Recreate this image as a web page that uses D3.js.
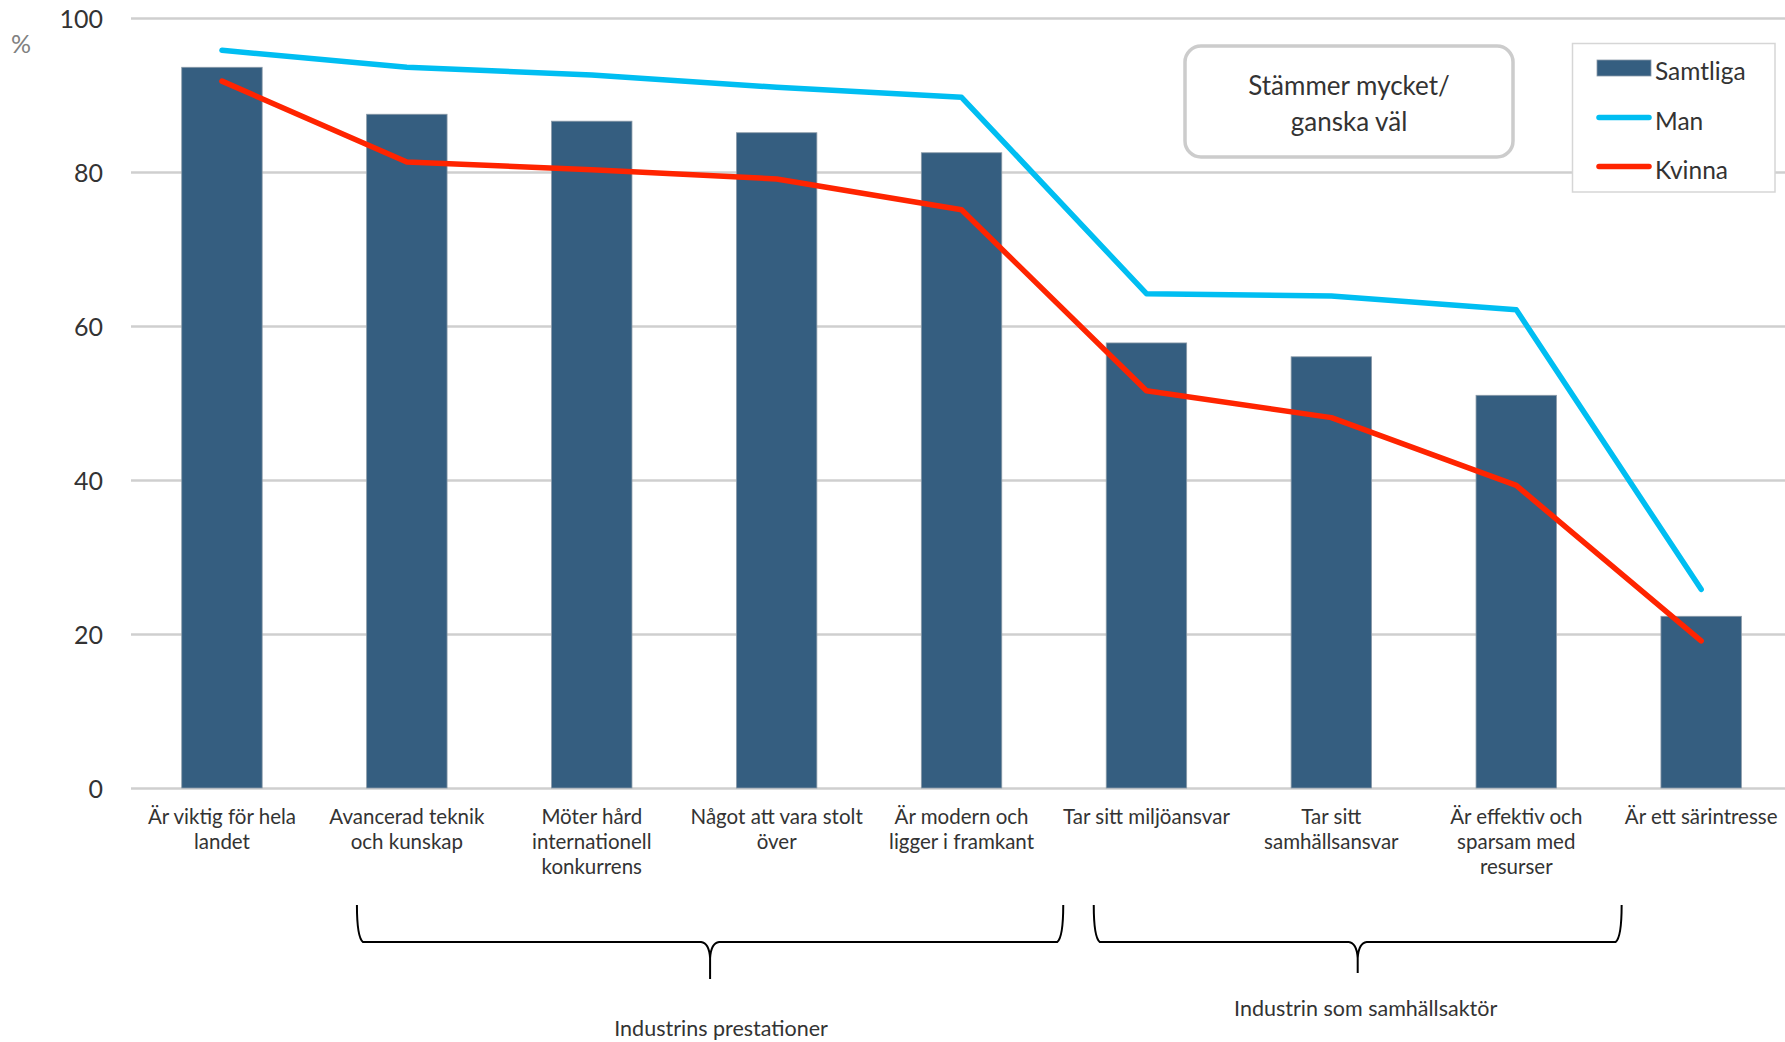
<!DOCTYPE html>
<html>
<head>
<meta charset="utf-8">
<script src="https://cdn.jsdelivr.net/npm/d3@7"></script>
<style>
  html, body { margin: 0; padding: 0; background: #fff; }
  svg { display: block; font-family: Lato, "Open Sans", sans-serif; }
  svg text { font-family: Lato, "Open Sans", sans-serif; }
</style>
</head>
<body>
<svg id="chart" width="1785" height="1042"></svg>
<script>
// ---- data ----
const categories = [
  ["Är viktig för hela", "landet"],
  ["Avancerad teknik", "och kunskap"],
  ["Möter hård", "internationell", "konkurrens"],
  ["Något att vara stolt", "över"],
  ["Är modern och", "ligger i framkant"],
  ["Tar sitt miljöansvar"],
  ["Tar sitt", "samhällsansvar"],
  ["Är effektiv och", "sparsam med", "resurser"],
  ["Är ett särintresse"]
];
const samtliga = [93.6, 87.5, 86.6, 85.1, 82.5, 57.8, 56.0, 51.0, 22.3];
const man      = [95.8, 93.6, 92.6, 91.0, 89.7, 64.2, 63.9, 62.1, 25.8];
const kvinna   = [91.8, 81.3, 80.3, 79.1, 75.1, 51.6, 48.1, 39.3, 19.1];
const yTicks = [0, 20, 40, 60, 80, 100];
const seriesNames = ["Samtliga", "Man", "Kvinna"];
const boxText = ["Stämmer mycket/", "ganska väl"];
const groups = [
  { label: "Industrins prestationer", from: 1, to: 4 },
  { label: "Industrin som samhällsaktör", from: 5, to: 7 }
];

// ---- styles ----
const colBar = "#355E80", colMan = "#00BEF2", colKv = "#FF2400";
const textCol = "#333333";
const FONT = "Lato, 'Open Sans', sans-serif";

const svg = d3.select("#chart");
const W = 1785;

const idx = categories.map((d, i) => i);
const x = d3.scaleBand().domain(idx).range([129.5, 1793.6]).paddingInner(0.565).paddingOuter(0.2825);
const y = d3.scaleLinear().domain([0, 100]).range([788, 18]);
const cx = i => x(i) + x.bandwidth() / 2;

// gridlines + y ticks
const yAxis = d3.axisLeft(y).tickValues(yTicks).tickSize(-(W - 131)).tickPadding(28).tickFormat(d3.format("d"));
const gy = svg.append("g").attr("transform", "translate(131,0)").call(yAxis)
  .attr("font-family", FONT).attr("font-size", 25);
gy.select(".domain").remove();
gy.selectAll(".tick line").attr("stroke", "#cfcfcf").attr("stroke-width", 2.5);
gy.selectAll(".tick text").attr("fill", textCol).attr("font-size", 25).attr("dy", "0.36em");

svg.append("text").attr("x", 11).attr("y", 53).attr("fill", "#808080").attr("font-size", 25).text("%");

// bars
svg.append("g").selectAll("rect").data(samtliga).join("rect")
  .attr("x", (d, i) => x(i)).attr("width", x.bandwidth())
  .attr("y", d => y(d)).attr("height", d => y(0) - y(d))
  .attr("fill", colBar).attr("stroke", "#8a9aa8").attr("stroke-width", 0.8);

// lines
const line = d3.line().x((d, i) => cx(i)).y(d => y(d));
svg.append("path").datum(man).attr("d", line).attr("fill", "none")
  .attr("stroke", colMan).attr("stroke-width", 5.5).attr("stroke-linecap", "round").attr("stroke-linejoin", "round");
svg.append("path").datum(kvinna).attr("d", line).attr("fill", "none")
  .attr("stroke", colKv).attr("stroke-width", 5.5).attr("stroke-linecap", "round").attr("stroke-linejoin", "round");

// x labels
const xAxis = d3.axisBottom(x).tickSize(0).tickFormat("");
const gx = svg.append("g").attr("transform", `translate(0,${y(0)})`).call(xAxis)
  .attr("font-family", FONT).attr("font-size", 20.5);
gx.select(".domain").remove();
gx.selectAll(".tick").each(function(d) {
  const t = d3.select(this).append("text").attr("text-anchor", "middle")
    .attr("fill", textCol).attr("font-size", 20.5);
  categories[d].forEach((ln, k) => {
    t.append("tspan").attr("x", 0).attr("y", 36 + k * 24.8).text(ln);
  });
});

// annotation box
svg.append("rect").attr("x", 1185).attr("y", 46).attr("width", 328).attr("height", 111)
  .attr("rx", 16).attr("fill", "#fff").attr("stroke", "#cccccc").attr("stroke-width", 3.5);
boxText.forEach((t, k) => {
  svg.append("text").attr("x", 1349).attr("y", 95 + k * 35.5).attr("text-anchor", "middle")
    .attr("fill", textCol).attr("font-size", 26).text(t);
});

// legend
const lg = svg.append("g");
lg.append("rect").attr("x", 1572.5).attr("y", 43.5).attr("width", 202.5).attr("height", 148.5)
  .attr("fill", "#fff").attr("stroke", "#d6d6d6").attr("stroke-width", 1.5);
const legY = [68, 117.5, 166.5];
lg.append("rect").attr("x", 1597).attr("y", legY[0] - 8).attr("width", 54).attr("height", 16).attr("fill", colBar)
  .attr("stroke", "#8a9aa8").attr("stroke-width", 0.8);
[colMan, colKv].forEach((c, k) => {
  lg.append("line").attr("x1", 1599).attr("x2", 1649).attr("y1", legY[k + 1]).attr("y2", legY[k + 1])
    .attr("stroke", c).attr("stroke-width", 5.5).attr("stroke-linecap", "round");
});
seriesNames.forEach((n, k) => {
  lg.append("text").attr("x", 1655).attr("y", legY[k] + 12).attr("fill", textCol).attr("font-size", 24.5).text(n);
});

// braces
const step = x.step();
const braceSpec = [
  { x0: cx(groups[0].from) - 0.27 * step, x1: cx(groups[0].to) + 0.55 * step, tip: 979, ty: 1036 },
  { x0: cx(groups[1].from) - 0.285 * step, x1: cx(groups[1].to) + 0.57 * step, tip: 973, ty: 1016 }
];
braceSpec.forEach((b, k) => {
  const top = 905, hy = 942, c = (b.x0 + b.x1) / 2;
  const p = d3.path();
  p.moveTo(b.x0, top);
  p.bezierCurveTo(b.x0, top + 18, b.x0 + 1, hy - 4, b.x0 + 6, hy);
  p.lineTo(c - 9, hy);
  p.quadraticCurveTo(c - 1, hy + 1, c, hy + 16);
  p.lineTo(c, b.tip);
  p.moveTo(c, hy + 16);
  p.quadraticCurveTo(c + 1, hy + 1, c + 9, hy);
  p.lineTo(b.x1 - 6, hy);
  p.bezierCurveTo(b.x1 - 1, hy - 4, b.x1, top + 18, b.x1, top);
  svg.append("path").attr("d", p.toString()).attr("fill", "none").attr("stroke", "#000").attr("stroke-width", 2);
  svg.append("text").attr("x", c + (k === 0 ? 11 : 8)).attr("y", b.ty).attr("text-anchor", "middle")
    .attr("fill", textCol).attr("font-size", 21.5).text(groups[k].label);
});
</script>
</body>
</html>
